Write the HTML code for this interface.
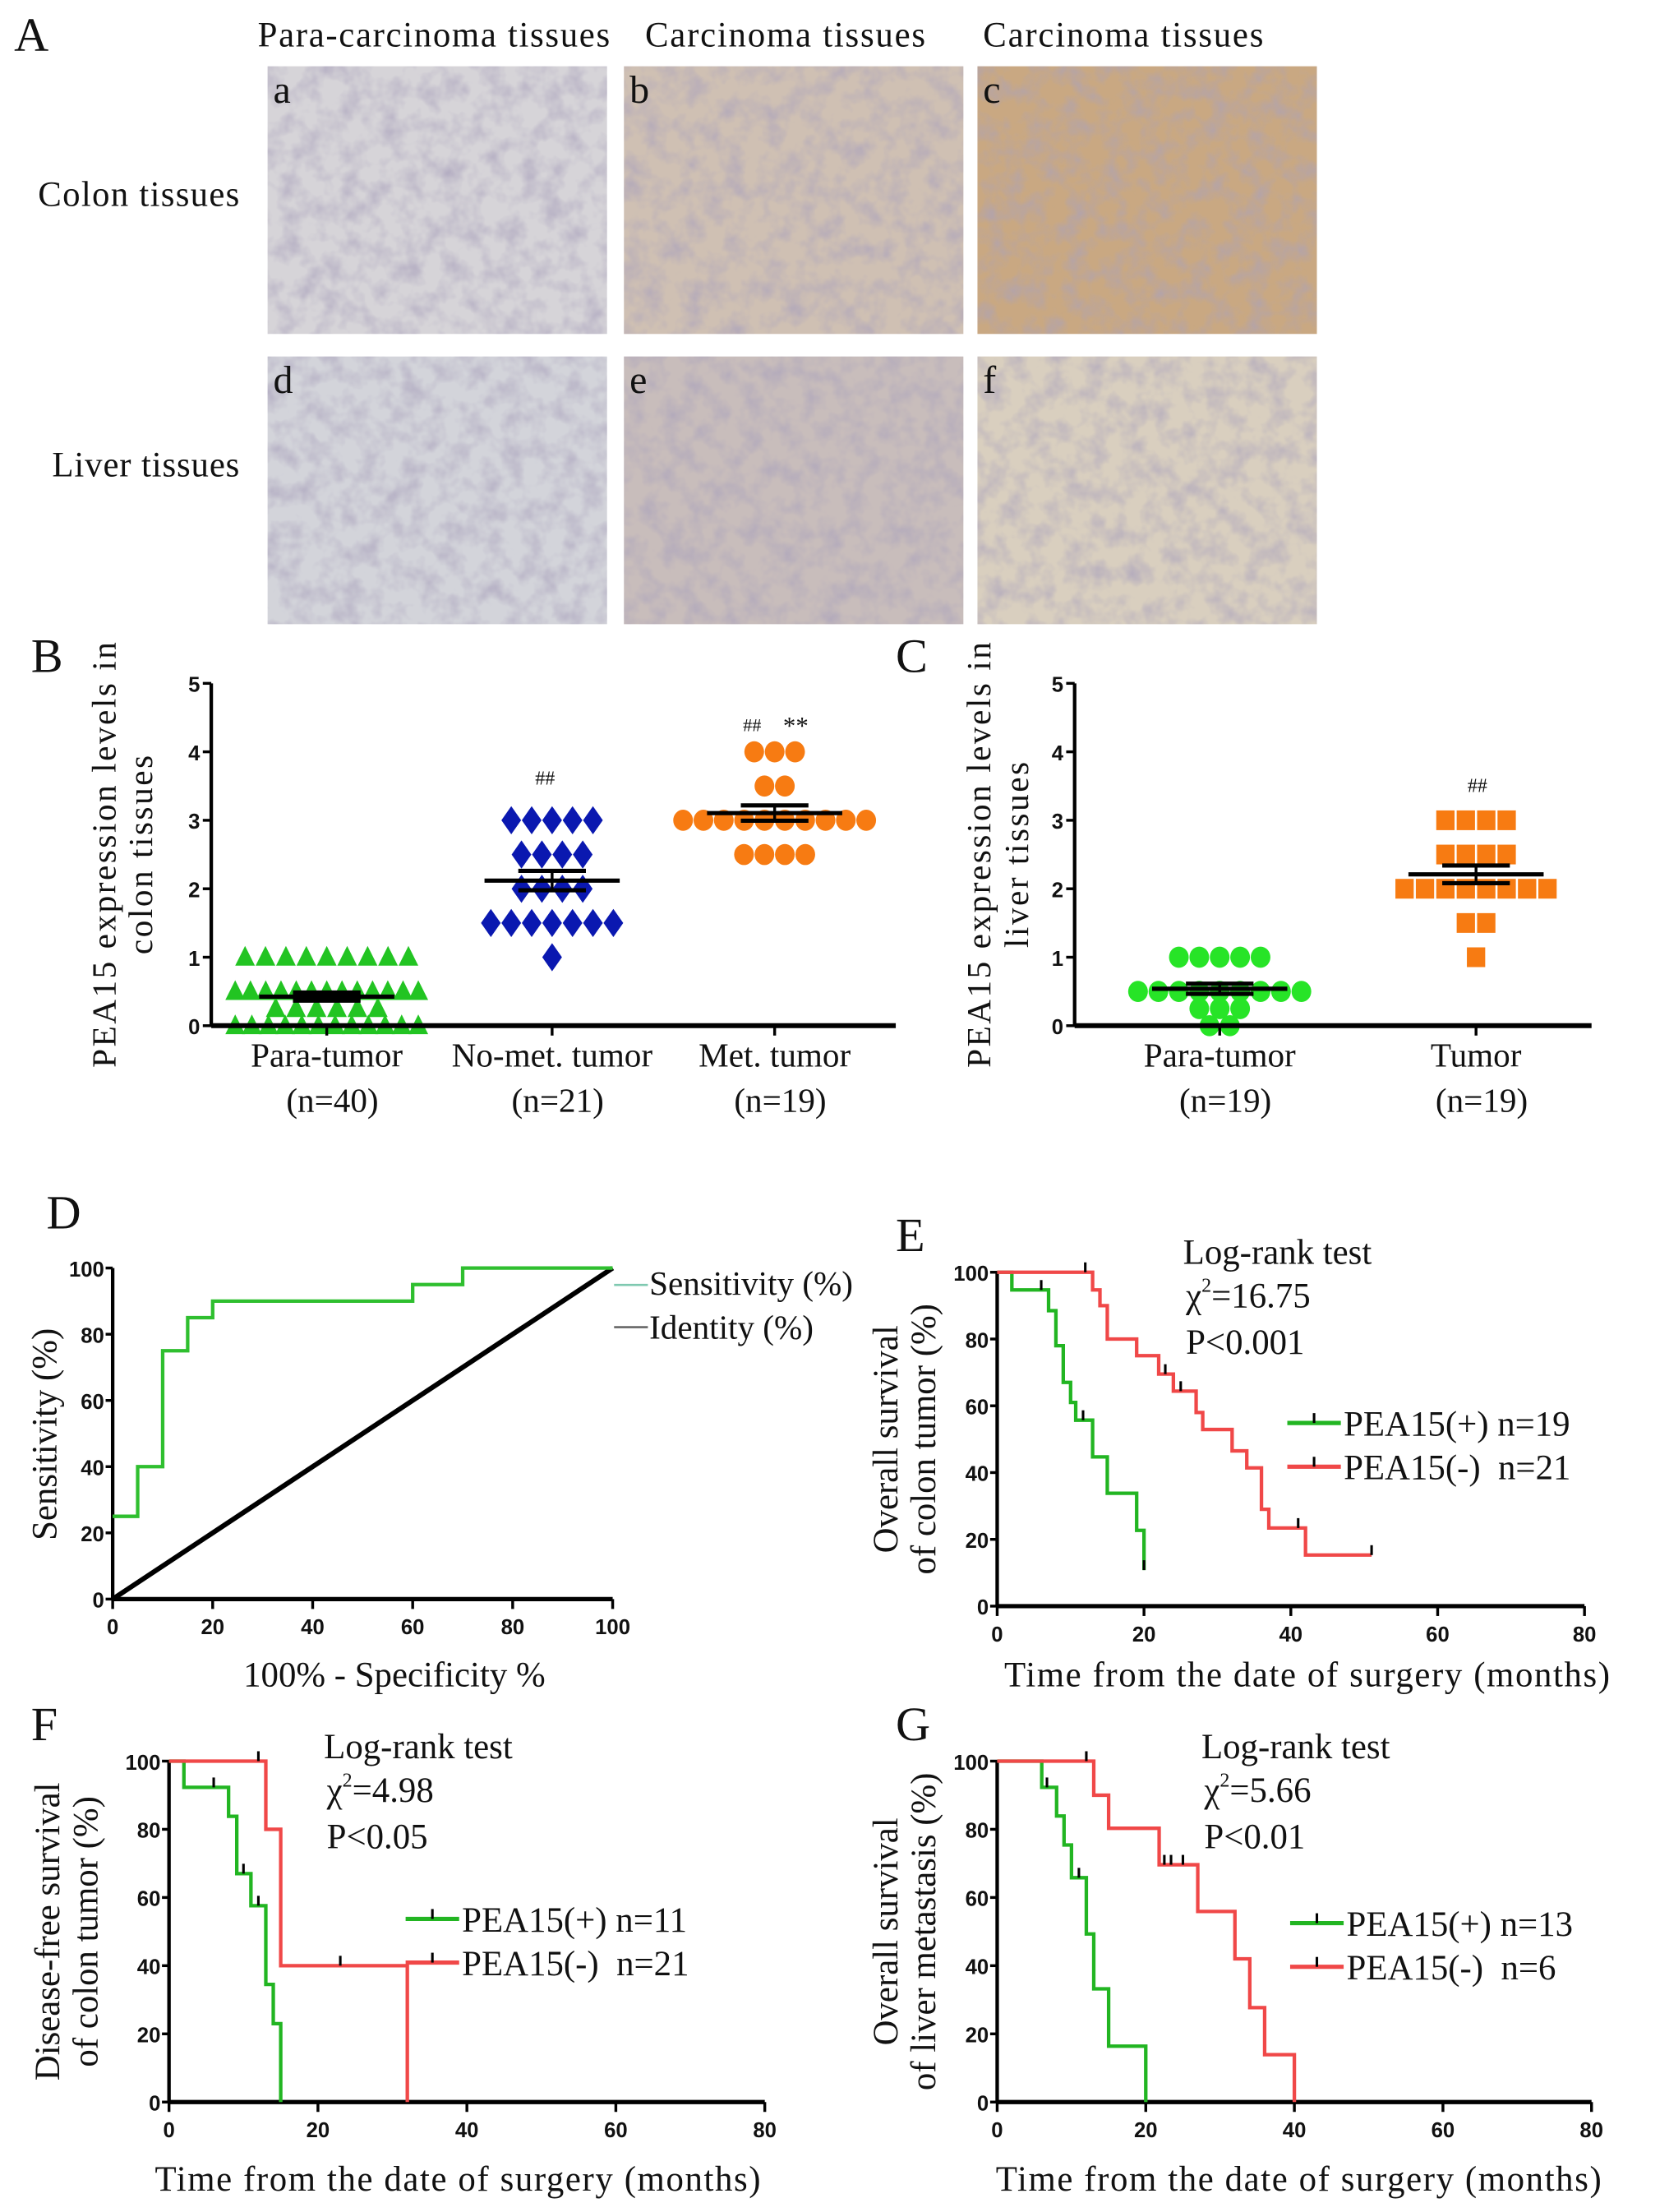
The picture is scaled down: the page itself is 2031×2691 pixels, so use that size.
<!DOCTYPE html>
<html><head><meta charset="utf-8"><style>
html,body{margin:0;padding:0;background:#fff;}
svg{display:block;}
text{font-family:"Liberation Serif",serif;fill:#111;}
.tk{font-family:"Liberation Sans",sans-serif;font-weight:bold;font-size:15px;}
</style></head><body>
<svg id="fig" width="2031" height="2691" viewBox="0 0 1185 1570" xmlns="http://www.w3.org/2000/svg">
<defs>
<filter id="tex" x="0" y="0" width="100%" height="100%">
<feTurbulence type="fractalNoise" baseFrequency="0.07" numOctaves="3" seed="3"/>
<feColorMatrix type="matrix" values="0 0 0 0 0.40  0 0 0 0 0.36  0 0 0 0 0.50  0 0 0 1.3 -0.5"/>
<feComposite in2="SourceGraphic" operator="in"/>
</filter>
</defs>
<g id="panelA">
<text x="10" y="36" font-size="34">A</text>
<text x="183" y="33" font-size="25" textLength="250">Para-carcinoma tissues</text>
<text x="458" y="33" font-size="25" textLength="199">Carcinoma tissues</text>
<text x="698" y="33" font-size="25" textLength="199">Carcinoma tissues</text>
<text x="27" y="146" font-size="25" textLength="143">Colon tissues</text>
<text x="37" y="338" font-size="25" textLength="133">Liver tissues</text>
</g>
<g id="charts"></g>
</svg>
<script>
// ---------- data ----------
const tileLetters = ['a','b','c','d','e','f'];
const tileColors = ['#d6d4d8','#cfc0b3','#c9a882','#d3d4da','#c8bdbb','#d9cfbf'];
const catsB = ['Para-tumor','No-met. tumor','Met. tumor'];
const nB = ['(n=40)','(n=21)','(n=19)'];
const paraB = [1,1,1,1,1,1,1,1,1,0.5,0.5,0.5,0.5,0.5,0.5,0.5,0.5,0.5,0.5,0.5,0.5,0.5,0.25,0.25,0.25,0.25,0.25,0.25,0,0,0,0,0,0,0,0,0,0,0,0];
const nometB = [3,3,3,3,3,2.5,2.5,2.5,2.5,2,2,2,2,1.5,1.5,1.5,1.5,1.5,1.5,1.5,1];
const metB = [4,4,4,3.5,3.5,3,3,3,3,3,3,3,3,3,3,2.5,2.5,2.5,2.5];
const catsC = ['Para-tumor','Tumor'];
const nC = ['(n=19)','(n=19)'];
const paraC = [1,1,1,1,1,0.5,0.5,0.5,0.5,0.5,0.5,0.5,0.5,0.5,0.25,0.25,0.25,0,0];
const tumorC = [3,3,3,3,2.5,2.5,2.5,2.5,2,2,2,2,2,2,2,2,1.5,1.5,1];
const yTicksB = [0,1,2,3,4,5];
const rocX = [0,5,5,10,10,15,15,20,20,60,60,70,70,100];
const rocY = [25,25,40,40,75,75,85,85,90,90,95,95,100,100];
const pctTicks = [0,20,40,60,80,100];
const monthTicks = [0,20,40,60,80];
// KM: event times and survival after event
const eGreenT = [2,7,8,9,10,10.7,13,15,19,20];
const eGreenS = [94.7,88.5,78,67,61,55.7,44.7,33.8,22.7,10.8];
const eGreenC = [6,11.7,20];
const eRedT = [13,14,15,19,22,24,27.1,28,32,34,36,37,42];
const eRedS = [94.7,90,80,75,69.5,64.4,58,52.9,46.5,41.4,29,23.4,15.3];
const eRedC = [12,22.9,25,41,51];
const eRedEnd = 51;
const fGreenT = [2,8,9.1,11,13,14,15];
const fGreenS = [92.3,83.8,67,57.6,34.5,23,0];
const fGreenC = [6,10,12];
const fRedT = [13,15,32];
const fRedS = [80,40,0];
const fRedC = [12,23];
const gGreenT = [6,8,9,10,12,13,15,20];
const gGreenS = [92.3,83.9,75.4,65.8,49.3,33.2,16.4,0];
const gGreenC = [6.7,11];
const gRedT = [13,15,21.8,27,32,34,36,40];
const gRedS = [90,80.3,69.6,55.9,42,27.7,13.9,0];
const gRedC = [12,22.5,23.4,25];

// ---------- helpers ----------
const NS='http://www.w3.org/2000/svg';
const root=document.getElementById('charts');
function mk(tag,attrs,parent){const e=document.createElementNS(NS,tag);for(const k in attrs)e.setAttribute(k,attrs[k]);(parent||root).appendChild(e);return e;}
function txt(s,x,y,size,anchor,parent,extra){const t=mk('text',Object.assign({x:x,y:y,'font-size':size,'text-anchor':anchor||'start'},extra||{}),parent);t.textContent=s;return t;}
function grp(name){const g=mk('g',{});return g;}
function lin(x0,x1,d0,d1){return v=>x0+(v-d0)/(d1-d0)*(x1-x0);}

// ---------- tiles ----------
(function(){
 const cols=[190,443,694], rows=[47,253], w=241, h=190;
 tileLetters.forEach((L,i)=>{
  const g=grp('micrograph-'+L);
  const x=cols[i%3], y=rows[Math.floor(i/3)];
  mk('rect',{x:x,y:y,width:w,height:h,fill:tileColors[i]},g);
  mk('rect',{x:x,y:y,width:w,height:h,fill:tileColors[i],filter:'url(#tex)'},g);
  const t=txt(L,x+4,y+26,28,'start',g);
  
  
 });
})();

// ---------- scatter panels ----------
function scatter(name,letter,lx,axX,axEnd,centers,groups,colors,shapes,cats,ns,ttl1,ttl2,tx1,tx2,ann){
 const g=grp(name);
 const y=lin(728,485,0,5);
 const pl=txt(letter,lx,477,34,'start',g);
 
 
 mk('line',{x1:axX,y1:y(0)+1,x2:axX,y2:y(5),stroke:'#000','stroke-width':2.5},g);
 yTicksB.forEach(v=>{mk('line',{x1:axX-6,y1:y(v),x2:axX,y2:y(v),stroke:'#000','stroke-width':2},g);
  const t=txt(String(v),axX-8,y(v)+6,15,'end',g,{'class':'tk'});
  });
 groups.forEach((vals,gi)=>{
  const cx=centers[gi];
  const levels={};vals.forEach(v=>{(levels[v]=levels[v]||[]).push(v);});
  Object.keys(levels).forEach(k=>{
   const arr=levels[k],n=arr.length,sp=n>1?Math.min(14.5,130/(n-1)):0;
   arr.forEach((v,j)=>{
    const px=cx+(j-(n-1)/2)*sp, py=y(v);
    let m;
    if(shapes[gi]==='tri') m=mk('polygon',{points:`${px},${py-8} ${px-7},${py+6} ${px+7},${py+6}`,fill:colors[gi]},g);
    else if(shapes[gi]==='dia') m=mk('polygon',{points:`${px},${py-10} ${px-7},${py} ${px},${py+10} ${px+7},${py}`,fill:colors[gi]},g);
    else if(shapes[gi]==='sq') m=mk('rect',{x:px-6.5,y:py-7,width:13,height:14,fill:colors[gi]},g);
    else m=mk('ellipse',{cx:px,cy:py,rx:7,ry:7.5,fill:colors[gi]},g);
    
    
   });
  });
  const mean=vals.reduce((a,b)=>a+b,0)/vals.length;
  const sd=Math.sqrt(vals.reduce((a,b)=>a+(b-mean)*(b-mean),0)/(vals.length-1));
  const sem=sd/Math.sqrt(vals.length);
  const ml=mk('line',{x1:cx-48,y1:y(mean),x2:cx+48,y2:y(mean),stroke:'#000','stroke-width':3},g);
  
  mk('line',{x1:cx,y1:y(mean-sem),x2:cx,y2:y(mean+sem),stroke:'#000','stroke-width':2},g);
  mk('line',{x1:cx-24,y1:y(mean+sem),x2:cx+24,y2:y(mean+sem),stroke:'#000','stroke-width':3},g);
  mk('line',{x1:cx-24,y1:y(mean-sem),x2:cx+24,y2:y(mean-sem),stroke:'#000','stroke-width':3},g);
  mk('line',{x1:cx,y1:y(0),x2:cx,y2:y(0)+7,stroke:'#000','stroke-width':2},g);
  const c1=txt(cats[gi],cx,y(0)+29,24,'middle',g);
  const c2=txt(ns[gi],cx+4,y(0)+61,24,'middle',g);
 });
 mk('line',{x1:axX,y1:y(0),x2:axEnd,y2:y(0),stroke:'#000','stroke-width':3.5},g);
 const t1=txt(ttl1,0,0,24,'middle',g,{transform:`translate(${tx1},606) rotate(-90)`,'letter-spacing':'1.5'});
 
 const t2=txt(ttl2,0,0,24,'middle',g,{transform:`translate(${tx2},606) rotate(-90)`,'letter-spacing':'1.5'});
 
 ann.forEach(a=>{const t=txt(a[0],a[1],a[2],a[3],'middle',g,{'font-family':'Liberation Sans, sans-serif'});});
}
scatter('panel-b-colon-scatter','B',22,150,636,[232,392,550],[paraB,nometB,metB],['#22c422','#0a18b0','#f77b12'],['tri','dia','circ'],catsB,nB,'PEA15 expression levels in','colon tissues',82,108,[['##',387,557,14],['##',534,519,13],['**',565,521,18]]);
scatter('panel-c-liver-scatter','C',636,763,1130,[866,1048],[paraC,tumorC],['#27e427','#f77b12'],['circ','sq'],catsC,nC,'PEA15 expression levels in','liver tissues',703,730,[['##',1049,562,14]]);

// ---------- generic axes for line panels ----------
function axes(g,x0,x1,yT,yB,xt,xd,yt,yd){
 const X=lin(x0,x1,xd[0],xd[1]),Y=lin(yB,yT,yd[0],yd[1]);
 mk('line',{x1:x0,y1:yB,x2:x0,y2:yT,stroke:'#000','stroke-width':2.5},g);
 mk('line',{x1:x0,y1:yB,x2:x1,y2:yB,stroke:'#000','stroke-width':3},g);
 yt.forEach(v=>{mk('line',{x1:x0-5,y1:Y(v),x2:x0,y2:Y(v),stroke:'#000','stroke-width':2},g);
  const t=txt(String(v),x0-6,Y(v)+6,15,'end',g,{'class':'tk'});});
 xt.forEach(v=>{mk('line',{x1:X(v),y1:yB,x2:X(v),y2:yB+7,stroke:'#000','stroke-width':2},g);
  const t=txt(String(v),X(v),yB+25,15,'middle',g,{'class':'tk'});});
 return [X,Y];
}

// ---------- ROC ----------
(function(){
 const g=grp('panel-d-roc');
 const pl=txt('D',33,872,34,'start',g);
 const [X,Y]=axes(g,80,435,900,1135,pctTicks,[0,100],pctTicks,[0,100]);
 const id=mk('line',{x1:X(0),y1:Y(0),x2:X(100),y2:Y(100),stroke:'#000','stroke-width':3.5},g);
 
 const p=mk('path',{d:rocX.map((v,i)=>(i?'L':'M')+X(v)+','+Y(rocY[i])).join(''),fill:'none',stroke:'#2fbf2f','stroke-width':2.5},g);
 
 mk('line',{x1:436,y1:912,x2:460,y2:912,stroke:'#7fc9b0','stroke-width':1.5},g);
 mk('line',{x1:436,y1:942,x2:460,y2:942,stroke:'#666','stroke-width':1.5},g);
 const l1=txt('Sensitivity (%)',461,919,24,'start',g);
 const l2=txt('Identity (%)',461,950,24,'start',g);
 const xt=txt('100% - Specificity %',280,1197,25,'middle',g);
 const yt=txt('Sensitivity (%)',0,0,25,'middle',g,{transform:'translate(40,1018) rotate(-90)'});
})();

// ---------- KM ----------
function km(name,letter,lx,x0,x1,yT,yB,series,stats,sx,sy,legX,legY,ttl1,ttl2,ty1,ty2,xTitleX,xTitleY){
 const g=grp(name);
 const pl=txt(letter,lx,yT-15,34,'start',g);
 const [X,Y]=axes(g,x0,x1,yT,yB,monthTicks,[0,80],pctTicks,[0,100]);
 series.forEach((s,si)=>{
  let d='M'+X(0)+','+Y(100), prev=100;
  s.t.forEach((t,i)=>{d+='L'+X(t)+','+Y(prev)+'L'+X(t)+','+Y(s.s[i]);prev=s.s[i];});
  if(s.end!==undefined) d+='L'+X(s.end)+','+Y(prev);
  const p=mk('path',{d:d,fill:'none',stroke:s.col,'stroke-width':2.5},g);
  
  s.c.forEach(ct=>{
   let sv=100;s.t.forEach((t,i)=>{if(t<=ct)sv=s.s[i];});
   const m=mk('line',{x1:X(ct),y1:Y(sv)-7,x2:X(ct),y2:Y(sv),stroke:'#000','stroke-width':1.8},g);
   
  });
  const ly=legY+si*31;
  mk('line',{x1:legX,y1:ly,x2:legX+38,y2:ly,stroke:s.col,'stroke-width':3},g);
  mk('line',{x1:legX+19,y1:ly-7,x2:legX+19,y2:ly,stroke:'#000','stroke-width':1.8},g);
  const lt=txt(s.label,legX+40,ly+9,25,'start',g);
 });
 const a=txt('Log-rank test',sx,sy,25,'start',g);
 const b=mk('text',{x:sx+2,y:sy+31,'font-size':25},g);
 b.innerHTML='χ<tspan font-size="14" dy="-11">2</tspan><tspan dy="11">='+stats[0]+'</tspan>';
 const c=txt(stats[1],sx+2,sy+64,25,'start',g);
 const xt=txt('Time from the date of surgery (months)',xTitleX,xTitleY,25,'middle',g,{textLength:430});
 const midY=(yT+yB)/2;
 const y1=txt(ttl1,0,0,25,'middle',g,{transform:`translate(${ty1},${midY}) rotate(-90)`});
 const y2=txt(ttl2,0,0,25,'middle',g,{transform:`translate(${ty2},${midY}) rotate(-90)`});
}
km('panel-e-overall-survival-colon','E',636,708,1125,903,1140,
 [{t:eGreenT,s:eGreenS,c:eGreenC,col:'#22b522',label:'PEA15(+) n=19'},{t:eRedT,s:eRedS,c:eRedC,end:eRedEnd,col:'#f04848',label:'PEA15(-)\u00a0\u00a0n=21'}],
 ['16.75','P<0.001'],840,897,914,1010,'Overall survival','of colon tumor (%)',637,664,928,1197);
km('panel-f-disease-free-colon','F',22,120,543,1250,1492,
 [{t:fGreenT,s:fGreenS,c:fGreenC,col:'#22b522',label:'PEA15(+) n=11'},{t:fRedT,s:fRedS,c:fRedC,col:'#f04848',label:'PEA15(-)\u00a0\u00a0n=21'}],
 ['4.98','P<0.05'],230,1248,288,1362,'Disease-free survival','of colon tumor (%)',42,69,325,1555);
km('panel-g-overall-survival-liver','G',636,708,1130,1250,1492,
 [{t:gGreenT,s:gGreenS,c:gGreenC,col:'#22b522',label:'PEA15(+) n=13'},{t:gRedT,s:gRedS,c:gRedC,col:'#f04848',label:'PEA15(-)\u00a0\u00a0n=6'}],
 ['5.66','P<0.01'],853,1248,916,1365,'Overall survival','of liver metastasis (%)',637,664,922,1555);
</script>
</body></html>
